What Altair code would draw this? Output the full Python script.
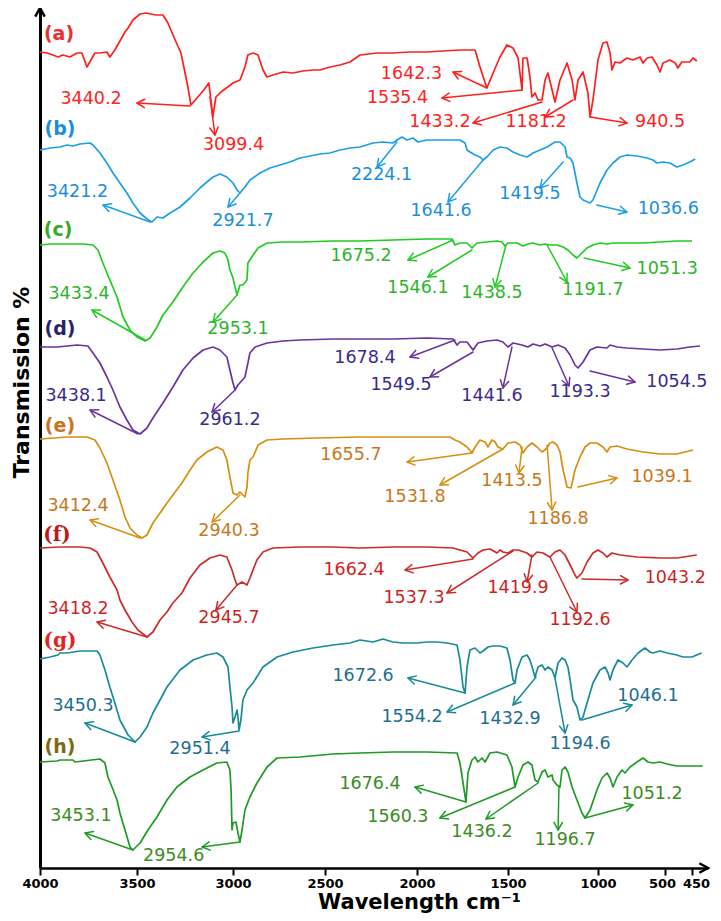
import math
import numpy as np
import pandas as pd
import altair as alt

# ---------------- axis / scale description ----------------
X_TICKS = [4000, 3500, 3000, 2500, 2000, 1500, 1000, 500, 450]
X_DOMAIN = [4000, 3500, 3000, 2500, 2000, 1500, 1000, 500, 450, 420]
X_RANGE = [0, 97, 193, 285, 377, 468, 558, 625, 652, 668]
Y_MAX = 172
W, H = 668, 860

SERIES = ["a", "b", "c", "d", "e", "f", "g", "h"]
CURVE_COLORS = ["#ff1f1f", "#1aa0e6", "#1fcc1f", "#6a34a0", "#d68f12", "#cc2b2b", "#178b98", "#1f9a26"]
TEXT_COLORS = ["#ff2222", "#1a8fd8", "#2cb52c", "#3a2a8c", "#c8781c", "#d01f1f", "#1e6e8e", "#3a8c1e"]
TAG_COLORS = ["#e83030", "#1a8fd8", "#33aa22", "#2d1f6e", "#c8741c", "#c01818", "#e82020", "#7a6a10"]
TAG_TEXT = ["(a)", "(b)", "(c)", "(d)", "(e)", "(f)", "(g)", "(h)"]
TAG_SERIF = [False, False, False, False, False, True, True, False]
TAG_POS = [(3902, 166.8), (3897, 147.9), (3907, 127.6), (3897, 107.8),
           (3897, 88.4), (3912, 66.6), (3897, 45.4), (3897, 24.2)]

# ---------------- spectra (wavenumber, stacked transmission) ----------------
A = [(4000,163.2),(3964,163),(3933,162.6),(3907,162.2),(3882,162.6),(3846,162.2),(3809,163),(3784,163),
     (3758,160.2),(3732,162),(3717,163),(3691,163),(3655,163.2),(3640,162.2),(3614,163.6),(3562,167.2),
     (3546,168),(3521,169.6),(3484,170.8),(3454,171),(3428,170.8),(3401,170.6),(3365,170.6),(3339,169),
     (3308,166.2),(3271,163),(3256,160.2),(3235,156.2),(3219,152.6),(3183,154.2),(3152,155.6),(3126,157),
     (3115,153.6),(3105,150.2),(3089,154.2),(3063,155.2),(3027,156.2),(3000,157),(2962,157.6),(2935,160.2),
     (2919,162.6),(2891,163),(2864,162.6),(2837,159.6),(2815,158.2),(2783,158.6),(2728,159.2),(2674,159),
     (2620,159.4),(2565,159.6),(2527,159.6),(2473,160.2),(2419,160.6),(2364,161.2),(2310,162.6),(2218,163),
     (2131,163),(2038,163.2),(1945,163.2),(1857,163.4),(1764,163.6),(1681,163.6),(1654,160.2),(1616,156),
     (1582,159),(1544,162.2),(1506,164.6),(1472,164),(1444,162),(1422,155.6),(1417,162),(1394,162),
     (1378,158.2),(1367,154.2),(1350,155),(1333,153.6),(1311,153.6),(1294,157.6),(1278,159),(1255,155.6),
     (1239,153.2),(1211,157.6),(1172,161),(1144,157.6),(1128,153.6),(1111,157.6),(1083,159.2),(1056,155),
     (1044,150.2),(1028,153.6),(1000,161.6),(963,165),(933,165.2),(910,163),(896,159.6),(873,161.2),
     (836,161),(784,162),(739,161.6),(687,162.2),(664,161),(634,162),(597,162.2),(560,160.6),(537,159.2),
     (515,161),(491,161.6),(481,161),(476,160),(469,161.2),(454,161.2),(448,162),(441,161.4)]

B = [(4000,143.6),(3948,144),(3897,144.2),(3861,144.6),(3830,144.4),(3794,144.8),(3742,145),(3727,144.6),
     (3691,143),(3655,141),(3624,139),(3588,137),(3552,135),(3521,133),(3484,131),(3448,129.8),(3422,129.2),
     (3396,130.2),(3365,130),(3328,131),(3276,132.2),(3224,134),(3172,136),(3136,137.2),(3104,138.2),
     (3068,138.8),(3032,138.2),(3000,137),(2978,135.6),(2962,135),(2935,136.2),(2908,137.6),(2853,139),
     (2799,140),(2745,140.6),(2690,141.2),(2636,142),(2582,142.4),(2527,142.8),(2473,143),(2419,143.6),
     (2364,144),(2310,144.2),(2239,145),(2185,145.2),(2131,145),(2109,145.6),(2082,146.2),(2054,145.6),
     (2022,146),(1995,145.2),(1945,145.6),(1857,145.6),(1764,145.6),(1736,145),(1725,143.6),(1709,143.2),
     (1681,142.6),(1654,142.2),(1637,141.6),(1616,142.2),(1582,143.6),(1544,144.2),(1506,144),(1472,143.2),
     (1433,142.6),(1394,142.2),(1361,143),(1322,143.6),(1283,144.2),(1239,145.2),(1211,145.2),(1183,144.2),
     (1172,142.2),(1155,142),(1139,141),(1117,137),(1100,134.2),(1083,133.6),(1044,133),(1028,133.6),
     (985,137),(933,139.6),(888,141),(836,142.2),(784,142.6),(709,142.4),(634,142),(590,141.6),(560,141),
     (515,141.2),(491,141),(478,140.2),(467,140.6),(454,141.2),(444,141.8)]

C = [(4000,124.6),(3948,124.8),(3861,124.8),(3778,124.8),(3727,124.6),(3701,123.6),(3676,121),(3640,117.6),
     (3603,114.2),(3572,110.2),(3536,107.6),(3500,106.2),(3458,105.4),(3432,106),(3396,108.2),(3365,110.6),
     (3313,113.2),(3261,116.2),(3208,119),(3156,121.2),(3104,123),(3068,123.4),(3042,123),(3026,121.6),
     (3016,119.6),(3000,118),(2989,116.2),(2978,114.6),(2962,116.6),(2946,116.6),(2924,117.6),(2919,121),
     (2891,122.6),(2864,124),(2815,125),(2728,125.2),(2636,125.2),(2457,125.4),(2310,125.4),(2131,125.6),
     (1945,125.8),(1808,125.8),(1791,124.6),(1764,125),(1725,125),(1698,124),(1670,125),(1616,125.2),
     (1560,125.4),(1533,125.2),(1517,124.4),(1500,125),(1450,125),(1417,124.4),(1389,124.8),(1361,125),
     (1322,124.6),(1294,124.8),(1267,124.6),(1228,124.6),(1194,124.2),(1167,123.6),(1139,122.6),(1117,122),
     (1089,123),(1061,124),(1028,124.6),(985,125),(933,124.8),(888,125),(784,125),(664,125),(537,125.2),
     (478,125.4),(450,125.4)]

D = [(4000,104.2),(3912,104.2),(3809,104.6),(3753,104.4),(3727,103),(3691,101),(3655,98.2),(3624,95.6),
     (3588,92.2),(3552,89.6),(3521,87.6),(3484,86.8),(3448,88),(3417,90),(3365,93),(3313,96.2),(3261,99.6),
     (3208,102),(3156,103.6),(3104,104.2),(3068,103.6),(3032,102.2),(3016,99.6),(3000,97),(2989,95.6),
     (2973,96.6),(2935,98.2),(2919,101),(2908,103),(2880,104.2),(2815,105),(2728,105.4),(2636,105.6),
     (2457,105.8),(2310,105.8),(2131,105.8),(1945,106),(1802,105.8),(1780,104.6),(1764,105.2),(1725,105.2),
     (1692,103.6),(1665,105),(1616,105.4),(1560,105.6),(1528,105.2),(1500,104.2),(1472,105),(1422,104.6),
     (1389,104.2),(1361,104.8),(1322,104.4),(1294,104.8),(1255,104.2),(1222,104.6),(1183,104),(1155,102.6),
     (1128,100.6),(1111,100),(1083,101.2),(1044,103.6),(1006,104.2),(933,104),(910,104.6),(858,104.2),
     (784,104),(664,103.8),(537,103.6),(478,103.8),(454,104.2),(435,104.4)]

E = [(4000,85.8),(3861,86.2),(3758,86.2),(3717,85.6),(3691,84),(3655,81),(3624,77.6),(3588,73.6),
     (3562,70.2),(3536,68),(3500,66.6),(3474,66),(3448,66.6),(3417,69),(3380,71),(3344,73),(3313,74.6),
     (3266,77),(3224,79.6),(3188,81.6),(3136,83.2),(3084,84.2),(3052,83.6),(3032,81.6),(3016,78.2),(3000,75),
     (2978,74.6),(2962,75.2),(2935,74.2),(2924,76.2),(2919,79),(2908,81.6),(2891,82.2),(2864,84.6),
     (2815,85.6),(2728,85.8),(2543,86),(2310,86.2),(2131,86.2),(1945,86.2),(1819,86.2),(1791,85.6),
     (1764,85.2),(1725,84.2),(1698,83),(1681,84.2),(1654,85.6),(1626,85.2),(1610,84.2),(1588,85.6),
     (1571,85.2),(1555,84.2),(1528,83.8),(1500,85),(1461,85.2),(1433,84.6),(1417,83),(1394,84.2),(1367,85),
     (1339,84.2),(1311,83.2),(1283,84),(1267,85),(1250,85.2),(1228,84.6),(1211,83.2),(1194,79.6),
     (1172,76.2),(1150,76),(1128,79.6),(1100,82.2),(1072,84.2),(1044,85),(1006,85),(963,84.2),(933,83.2),
     (910,84.2),(858,84.4),(784,83.8),(664,83.2),(537,82.8),(478,82.8),(448,83.6)]

F = [(4000,64),(3897,64.2),(3794,64.2),(3742,64),(3706,63.2),(3676,61),(3640,58.2),(3603,55.6),
     (3588,53.6),(3562,51.6),(3526,49.2),(3495,47.6),(3448,46.2),(3417,47.2),(3380,49.6),(3344,51.2),
     (3313,53),(3266,55),(3224,58),(3172,60.6),(3120,62),(3068,62.6),(3032,62.2),(3005,59.6),(2989,57.6),
     (2978,56.6),(2951,57.2),(2924,56.6),(2908,58),(2870,61.6),(2837,63.2),(2783,64),(2636,64.2),
     (2457,64.2),(2310,64),(2131,64.2),(1945,64.2),(1802,64),(1725,63.2),(1692,62),(1665,63),(1637,63.6),
     (1599,63.8),(1560,63),(1544,63.6),(1528,63.2),(1500,63),(1472,63.6),(1444,63.6),(1394,63),(1367,62.2),
     (1339,63.2),(1306,63),(1267,62.2),(1239,63.2),(1211,63.6),(1183,62.6),(1155,60.6),(1128,58.6),
     (1117,58),(1089,59),(1061,61.2),(1028,63),(1000,63.6),(963,63),(933,62.2),(896,63),(836,62.6),
     (709,62.2),(537,62),(478,62),(441,62.6)]

G = [(4000,41.8),(3948,42.2),(3907,42.6),(3897,43),(3861,43),(3794,43.4),(3706,43.4),(3691,42.6),
     (3665,39.6),(3640,36.2),(3614,33),(3588,29.6),(3546,26.6),(3510,25.2),(3484,26.2),(3448,28.2),
     (3417,31),(3380,33.6),(3344,36.2),(3276,39.6),(3208,41.6),(3136,42.6),(3084,43),(3052,42.2),
     (3026,40.2),(3016,36.2),(3005,32.2),(3000,29),(2989,30.2),(2978,31.6),(2973,30.2),(2967,27.6),
     (2957,29.6),(2946,33.6),(2924,35.6),(2891,37),(2837,40.2),(2761,42.2),(2674,43.2),(2565,44),
     (2457,44.6),(2364,45),(2310,45.6),(2239,45.2),(2185,45.8),(2131,45.2),(2076,45),(2000,45),(1945,45.2),
     (1890,45.2),(1835,45),(1780,44.6),(1764,41.6),(1747,36.2),(1736,35),(1725,40.2),(1709,43.6),(1681,44),
     (1654,43),(1637,43.4),(1610,44.2),(1582,44.4),(1544,44.4),(1506,44),(1489,41.6),(1472,37.6),(1461,37),
     (1450,39.6),(1422,42.2),(1394,42.6),(1378,41.6),(1361,39.6),(1350,38.2),(1333,40.2),(1311,40.6),
     (1294,39.6),(1278,40.2),(1255,39.6),(1239,38),(1222,41),(1200,42),(1183,41.6),(1167,40.2),(1155,37.6),
     (1139,33.6),(1117,32.2),(1100,29.6),(1083,30.2),(1061,33),(1028,37),(985,39.6),(948,40.2),(925,39),
     (910,37.6),(888,39.6),(851,41.6),(813,41),(784,40.2),(746,41.6),(701,43),(649,44),(612,43.2),(590,43),
     (537,43.4),(496,43),(478,42.6),(467,42.2),(450,42.2),(432,43)]

Hh = [(4000,21.2),(3912,21.4),(3897,21.6),(3830,21.6),(3820,21.2),(3691,21.8),(3665,21),(3650,18.2),
      (3629,16.2),(3603,13.6),(3588,11),(3562,7.6),(3536,4.2),(3521,3.6),(3484,5),(3443,7.6),(3396,10.2),
      (3344,13.6),(3292,16.2),(3224,18.2),(3156,19.6),(3084,21),(3032,21.2),(3016,19.6),(3010,15.6),
      (3005,7.6),(3000,9),(2984,9.2),(2973,7),(2962,5.2),(2951,7.6),(2935,11.6),(2908,14.2),(2870,17),
      (2815,20.2),(2761,22),(2636,22.2),(2457,22.8),(2310,23),(2131,23.2),(1945,23.2),(1780,23),(1764,21),
      (1747,17),(1731,13.2),(1720,19),(1698,21.6),(1681,22.2),(1665,21.2),(1643,22),(1626,21.2),(1599,23),
      (1560,23.2),(1506,22.6),(1478,20.2),(1461,16.2),(1444,18.2),(1417,20.6),(1389,21.2),(1367,20.6),
      (1350,17.6),(1333,17.2),(1311,19.2),(1294,19.6),(1278,18.2),(1255,18.6),(1250,17.6),(1228,16.6),
      (1211,16.2),(1200,19.6),(1183,20.2),(1167,19.2),(1144,16.2),(1117,13.6),(1089,11),(1072,10),
      (1044,11.6),(1006,15.6),(970,18),(933,19),(910,18),(888,16.2),(858,18.2),(821,19.6),(799,19),
      (761,20.2),(709,21.2),(664,22),(627,21.2),(590,21),(537,21.2),(496,20.8),(478,20.4),(448,20.4),
      (430,20.4)]

SPECTRA = [A, B, C, D, E, F, G, Hh]

# ---------------- peak annotations: label, label pos, arrow start, arrow tip ----------------
ANN_A = [("3440.2", 3737, 153.8, 3224, 152.4, 3500, 153.0),
         ("3099.4", 2997, 144.6, 3120, 154.2, 3094, 146.6),
         ("1642.3", 2030, 158.8, 1616, 156.0, 1802, 159.2),
         ("1535.4", 2106, 154.0, 1422, 155.6, 1863, 154.0),
         ("1433.2", 1874, 149.2, 1311, 153.2, 1692, 149.0),
         ("1181.2", 1344, 149.2, 1139, 153.6, 1294, 150.2),
         ("940.5", 537, 149.2, 1044, 150.2, 784, 149.0)]
ANN_B = [("3421.2", 3807, 135.2, 3432, 129.2, 3675, 132.6),
         ("2921.7", 2946, 129.4, 2962, 135.0, 3026, 132.2),
         ("2224.1", 2193, 138.6, 2109, 145.2, 2217, 140.2),
         ("1641.6", 1868, 131.4, 1637, 141.6, 1830, 133.2),
         ("1419.5", 1378, 134.8, 1194, 141.2, 1322, 136.0),
         ("1036.6", 494, 131.8, 1006, 132.6, 784, 131.2)]
ANN_C = [("3433.4", 3799, 114.8, 3458, 105.6, 3732, 111.6),
         ("2953.1", 2973, 107.8, 2978, 114.6, 3104, 109.2),
         ("1675.2", 2304, 122.4, 1802, 125.6, 2049, 121.6),
         ("1546.1", 1995, 116.0, 1698, 123.6, 1940, 118.2),
         ("1438.5", 1588, 115.0, 1511, 124.6, 1571, 116.2),
         ("1191.7", 1028, 115.6, 1283, 124.6, 1172, 117.2),
         ("1051.3", 496, 119.8, 1078, 122.0, 761, 120.0)]
ANN_D = [("3438.1", 3814, 94.4, 3495, 86.8, 3742, 91.6),
         ("2961.2", 3016, 89.6, 2989, 95.6, 3109, 91.2),
         ("1678.4", 2283, 102.0, 1791, 105.6, 2038, 102.2),
         ("1549.5", 2087, 96.6, 1692, 103.2, 1929, 98.2),
         ("1441.6", 1588, 94.4, 1478, 104.2, 1528, 96.0),
         ("1193.3", 1100, 95.2, 1255, 104.0, 1161, 96.4),
         ("1054.5", 478, 97.2, 1044, 99.4, 724, 97.2)]
ANN_E = [("3412.4", 3804, 72.4, 3484, 66.0, 3742, 69.6),
         ("2940.3", 3021, 67.4, 2962, 74.6, 3109, 69.2),
         ("1655.7", 2359, 82.6, 1698, 83.0, 2054, 81.2),
         ("1531.8", 2011, 74.2, 1528, 83.8, 1874, 76.6),
         ("1413.5", 1478, 77.4, 1422, 84.2, 1439, 79.0),
         ("1186.8", 1222, 69.8, 1283, 84.6, 1255, 71.6),
         ("1039.1", 522, 78.2, 1111, 76.2, 858, 78.0)]
ANN_F = [("3418.2", 3804, 51.8, 3448, 46.2, 3706, 49.2),
         ("2945.7", 3021, 50.0, 2978, 56.6, 3089, 51.6),
         ("1662.4", 2342, 59.6, 1692, 61.8, 2065, 59.6),
         ("1537.3", 2016, 54.0, 1472, 63.4, 1835, 55.0),
         ("1419.9", 1444, 56.0, 1367, 62.6, 1394, 57.2),
         ("1192.6", 1100, 49.6, 1267, 62.2, 1117, 51.2),
         ("1043.2", 481, 58.0, 1089, 57.8, 776, 57.6)]
ANN_G = [("3450.3", 3778, 32.4, 3510, 25.2, 3768, 29.0),
         ("2951.4", 3172, 23.8, 2967, 27.4, 3161, 26.2),
         ("1672.6", 2293, 38.4, 1736, 35.0, 2049, 38.0),
         ("1554.2", 2027, 30.2, 1461, 37.0, 1835, 31.2),
         ("1432.9", 1489, 29.8, 1344, 38.2, 1472, 32.6),
         ("1194.6", 1100, 24.8, 1239, 38.0, 1183, 27.0),
         ("1046.1", 627, 34.4, 1089, 29.6, 746, 32.6)]
ANN_H = [("3453.1", 3789, 10.4, 3521, 3.6, 3768, 7.0),
         ("2954.6", 3309, 2.4, 2962, 5.2, 3161, 4.2),
         ("1676.4", 2255, 16.8, 1731, 13.2, 2011, 16.2),
         ("1560.3", 2104, 10.2, 1461, 16.2, 1874, 10.0),
         ("1436.2", 1643, 7.2, 1333, 17.0, 1621, 9.8),
         ("1196.7", 1183, 5.6, 1217, 16.2, 1222, 7.6),
         ("1051.2", 597, 14.8, 1072, 10.0, 739, 12.6)]
ANNOTATIONS = [ANN_A, ANN_B, ANN_C, ANN_D, ANN_E, ANN_F, ANN_G, ANN_H]

# ---------------- build tables ----------------
xd_inc = np.array(X_DOMAIN[::-1], dtype=float)
xr_inc = np.array(X_RANGE[::-1], dtype=float)


def xpix(v):
    return float(np.interp(v, xd_inc, xr_inc))


def ypix(v):
    return (Y_MAX - v) * H / Y_MAX


line_rows = []
for s, spec, col in zip(SERIES, SPECTRA, CURVE_COLORS):
    for i, (wn, t) in enumerate(spec):
        line_rows.append({"series": s, "order": i, "wn": wn, "T": t, "col": col})
lines_df = pd.DataFrame(line_rows)

ann_rows = []
for s, anns, col, tcol in zip(SERIES, ANNOTATIONS, CURVE_COLORS, TEXT_COLORS):
    for (lab, lx, ly, fx, fy, tx, ty) in anns:
        ang = math.degrees(math.atan2(ypix(ty) - ypix(fy), xpix(tx) - xpix(fx))) % 360
        ann_rows.append({"series": s, "label": lab, "lx": lx, "ly": ly, "fx": fx, "fy": fy,
                         "tx": tx, "ty": ty, "ang": ang, "col": col, "tcol": tcol})
ann_df = pd.DataFrame(ann_rows)

tag_df = pd.DataFrame({"tag": TAG_TEXT, "wn": [p[0] for p in TAG_POS], "T": [p[1] for p in TAG_POS],
                       "col": TAG_COLORS, "serif": TAG_SERIF})

axis_arrow_df = pd.DataFrame({"wn": [X_DOMAIN[0], X_DOMAIN[-1]], "T": [Y_MAX, 0], "ang": [270, 0]})

# ---------------- scales & axes ----------------
xscale = alt.Scale(domain=X_DOMAIN, range=X_RANGE, nice=False, zero=False)
yscale = alt.Scale(domain=[0, Y_MAX], nice=False, zero=False)

xaxis = alt.Axis(values=X_TICKS, format="d", grid=False,
                 title="Wavelength cm\u207b\u00b9", titleFont="DejaVu Sans", titleFontSize=21,
                 titleFontWeight="bold", titleColor="black", titleX=379, titleY=23,
                 titleAlign="center", titleBaseline="top",
                 labelFont="DejaVu Sans", labelFontSize=13, labelFontWeight="bold", labelColor="black",
                 labelOverlap=False, labelFlush=False, labelPadding=2,
                 labelOffset={"condition": [{"test": "datum.value == 500", "value": -3},
                                            {"test": "datum.value == 450", "value": 4}],
                              "value": 0},
                 tickSize=7, tickWidth=2, tickColor="black", domainColor="black", domainWidth=2.5)
yaxis = alt.Axis(labels=False, ticks=False, grid=False, domainColor="black", domainWidth=3,
                 title="Transmission %", titleFont="DejaVu Sans", titleFontSize=22,
                 titleFontWeight="bold", titleColor="black", titleX=-19, titleY=374,
                 titleAngle=270, titleAlign="center", titleBaseline="middle")


def X(field):
    return alt.X(field, type="quantitative", scale=xscale, axis=xaxis)


def Y(field):
    return alt.Y(field, type="quantitative", scale=yscale, axis=yaxis)


CHEVRON = "M-1,-0.55L0,0L-1,0.55"

lines = alt.Chart(lines_df).mark_line(strokeWidth=1.7, strokeJoin="round").encode(
    x=X("wn"), y=Y("T"), color=alt.Color("col:N", scale=None), detail="series:N",
    order=alt.Order("order:Q"))

rules = alt.Chart(ann_df).mark_rule(strokeWidth=1.5, strokeCap="round").encode(
    x=X("fx"), y=Y("fy"), x2="tx:Q", y2="ty:Q", color=alt.Color("col:N", scale=None))

heads = alt.Chart(ann_df).mark_point(shape=CHEVRON, filled=False, size=230, strokeWidth=1.5,
                                     opacity=1, strokeCap="round", strokeJoin="round").encode(
    x=X("tx"), y=Y("ty"), angle=alt.Angle("ang:Q", scale=None), color=alt.Color("col:N", scale=None))

labels = alt.Chart(ann_df).mark_text(font="DejaVu Sans", fontSize=17.5, align="center",
                                     baseline="middle").encode(
    x=X("lx"), y=Y("ly"), text="label:N", color=alt.Color("tcol:N", scale=None))

tags_sans = alt.Chart(tag_df).transform_filter("!datum.serif").mark_text(
    font="DejaVu Sans", fontSize=19, fontWeight="bold", align="center", baseline="middle").encode(
    x=X("wn"), y=Y("T"), text="tag:N", color=alt.Color("col:N", scale=None))

tags_serif = alt.Chart(tag_df).transform_filter("datum.serif").mark_text(
    font="DejaVu Serif", fontSize=20, fontWeight="bold", align="center", baseline="middle").encode(
    x=X("wn"), y=Y("T"), text="tag:N", color=alt.Color("col:N", scale=None))

axis_arrows = alt.Chart(axis_arrow_df).mark_point(shape=CHEVRON, filled=False, size=300, strokeWidth=2.5,
                                                  opacity=1, color="black").encode(
    x=X("wn"), y=Y("T"), angle=alt.Angle("ang:Q", scale=None))

chart = alt.layer(lines, rules, heads, labels, tags_sans, tags_serif, axis_arrows).properties(
    width=W, height=H,
    padding={"left": 32, "top": 0, "right": 5, "bottom": 45},
    autosize=alt.AutoSizeParams(type="none"),
).configure_view(stroke=None)

chart.save("out.html", embed_options={"renderer": "svg", "actions": False})
